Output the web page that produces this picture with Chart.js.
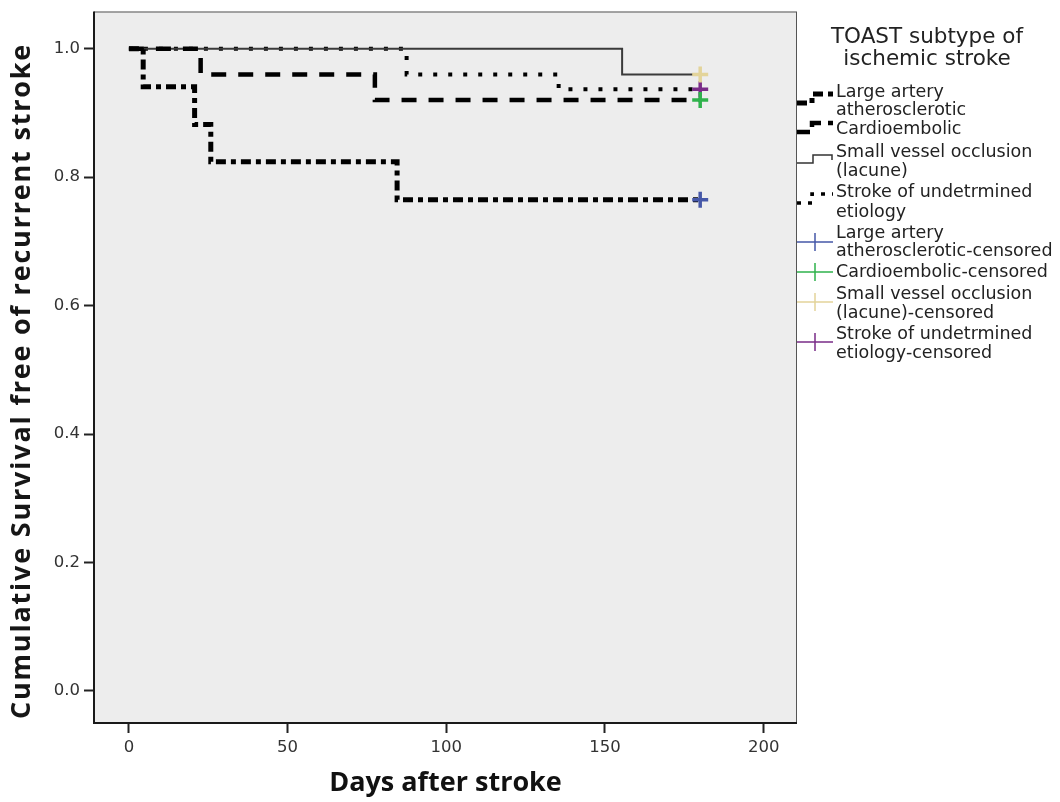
<!DOCTYPE html>
<html>
<head>
<meta charset="utf-8">
<script src="https://cdn.jsdelivr.net/npm/chart.js@4/dist/chart.umd.min.js"></script>
<style>
	body { margin: 0; background: #ffffff; }
	canvas { display: block; }
</style>
</head>
<body>
<canvas id="KM_Plot" width="1060" height="802"></canvas>
<script>

// Kaplan-Meier curves (days, cumulative survival)
const large_artery_days = [0, 4.5, 20.7, 25.8, 84.5, 180];
const large_artery_surv = [1.0, 0.941, 0.882, 0.824, 0.765, 0.765];

const cardio_days = [0, 22.6, 77.5, 180];
const cardio_surv = [1.0, 0.96, 0.92, 0.92];

const lacune_days = [0, 155.4, 180];
const lacune_surv = [1.0, 0.96, 0.96];

const undetermined_days = [0, 87.5, 135.4, 180];
const undetermined_surv = [1.0, 0.96, 0.937, 0.937];

// censored marks (all at last follow-up)
const censored_days = [180, 180, 180, 180];
const censored_surv = [0.765, 0.92, 0.96, 0.937];

const x_ticks = [0, 50, 100, 150, 200];
const y_ticks = [0.0, 0.2, 0.4, 0.6, 0.8, 1.0];

const x_title = 'Days after stroke';
const y_title = 'Cumulative Survival free of recurrent stroke';

const legend_title = ["TOAST subtype of", "ischemic stroke"];
const legend_labels = [
	["Large artery", "atherosclerotic"],
	["Cardioembolic"],
	["Small vessel occlusion", "(lacune)"],
	["Stroke of undetrmined", "etiology"],
	["Large artery", "atherosclerotic-censored"],
	["Cardioembolic-censored"],
	["Small vessel occlusion", "(lacune)-censored"],
	["Stroke of undetrmined", "etiology-censored"]
];

const censor_colors = ["#4658a8", "#2fb24c", "#e3d49a", "#7a2c88"];

// line styles for the four curves
const dash_large = [10, 5, 5, 5];
const dash_cardio = [15, 12];
const dash_undet = [4, 11];
const dash_solid = [];

function xy(days, surv) {
	return days.map((d, i) => ({ x: d, y: surv[i] }));
}

function censorSet(i) {
	return {
		data: [{ x: censored_days[i], y: censored_surv[i] }],
		showLine: false,
		pointStyle: 'cross',
		pointRadius: 8,
		pointBorderWidth: 3.5,
		pointBorderColor: censor_colors[i],
		pointBackgroundColor: censor_colors[i],
		order: 0
	};
}

function curveSet(days, surv, dash, width, color) {
	return {
		data: xy(days, surv),
		stepped: 'before',
		borderColor: color,
		borderWidth: width,
		borderDash: dash,
		borderCapStyle: 'butt',
		borderJoinStyle: 'miter',
		pointRadius: 0,
		fill: false,
		order: 1
	};
}

// grey plot background, frame and the y title
const frame_plugin = {
	id: 'frame',
	beforeDatasetsDraw(chart) {
		const a = chart.chartArea, ctx = chart.ctx;
		ctx.save();
		ctx.fillStyle = '#ededed';
		ctx.fillRect(a.left, a.top, a.right - a.left, a.bottom - a.top);
		ctx.restore();
	},
	afterDraw(chart) {
		const a = chart.chartArea, ctx = chart.ctx;
		ctx.save();
		ctx.strokeStyle = '#555';
		ctx.lineWidth = 1;
		ctx.strokeRect(a.left + 0.5, a.top + 0.5, a.right - a.left - 1, a.bottom - a.top);
		ctx.strokeStyle = '#1a1a1a';
		ctx.lineWidth = 2;
		ctx.beginPath();
		ctx.moveTo(a.left, a.top);
		ctx.lineTo(a.left, a.bottom);
		ctx.lineTo(a.right, a.bottom);
		ctx.stroke();

		ctx.translate(22, 381);
		ctx.rotate(-Math.PI / 2);
		ctx.fillStyle = '#161616';
		ctx.font = 'bold 27px "Open Sans"';
		ctx.letterSpacing = '1.8px';
		ctx.textAlign = 'center';
		ctx.textBaseline = 'middle';
		ctx.fillText(y_title, 0, 0);
		ctx.restore();
	}
};

// legend on the right, drawn by hand (step samples + censor crosses)
const legend_plugin = {
	id: 'kmLegend',
	afterDraw(chart) {
		const ctx = chart.ctx;
		const x0 = chart.chartArea.right;
		ctx.save();
		ctx.fillStyle = '#222';
		ctx.textBaseline = 'middle';

		ctx.font = '21.5px "DejaVu Sans"';
		ctx.textAlign = 'center';
		ctx.fillText(legend_title[0], 927, 37);
		ctx.fillText(legend_title[1], 927, 59);

		ctx.font = '17.5px "DejaVu Sans"';
		ctx.textAlign = 'left';
		const line_y = [[92, 110], [129], [152, 171], [192, 212], [233, 251], [272], [294, 313], [334, 353]];
		legend_labels.forEach((lines, i) => {
			lines.forEach((t, j) => ctx.fillText(t, 836, line_y[i][j]));
		});

		function step(yc, dash, width, color) {
			ctx.setLineDash(dash);
			ctx.lineWidth = width;
			ctx.strokeStyle = color;
			ctx.lineCap = 'butt';
			ctx.beginPath();
			ctx.moveTo(x0, yc + 2);
			ctx.lineTo(x0 + 15, yc + 2);
			ctx.lineTo(x0 + 15, yc - 7);
			ctx.lineTo(x0 + 36, yc - 7);
			ctx.stroke();
		}
		step(101, dash_large, 5, '#000');
		step(130, [13, 7], 4.5, '#000');
		ctx.setLineDash([]);
		ctx.lineWidth = 1.5;
		ctx.strokeStyle = '#333';
		ctx.beginPath();
		ctx.moveTo(x0, 163);
		ctx.lineTo(x0 + 16, 163);
		ctx.lineTo(x0 + 16, 155);
		ctx.lineTo(x0 + 35, 155);
		ctx.lineTo(x0 + 35, 160);
		ctx.stroke();
		step(201, [4, 7], 3.5, '#000');

		const cy = [242, 272, 302, 342];
		ctx.setLineDash([]);
		cy.forEach((y, i) => {
			ctx.strokeStyle = censor_colors[i];
			ctx.lineWidth = 1.5;
			ctx.beginPath();
			ctx.moveTo(x0, y);
			ctx.lineTo(x0 + 36, y);
			ctx.moveTo(x0 + 18, y - 9);
			ctx.lineTo(x0 + 18, y + 9);
			ctx.stroke();
		});
		ctx.restore();
	}
};

new Chart(document.getElementById("KM_Plot").getContext("2d"), {
	type: "line",
	data: {
		datasets: [
			censorSet(0), censorSet(1), censorSet(2), censorSet(3),
			curveSet(large_artery_days, large_artery_surv, dash_large, 5, '#000'),
			curveSet(cardio_days, cardio_surv, dash_cardio, 4.5, '#000'),
			curveSet(lacune_days, lacune_surv, dash_solid, 2, '#3a3a3a'),
			curveSet(undetermined_days, undetermined_surv, dash_undet, 4, '#000')
		]
	},
	options: {
		responsive: false,
		animation: false,
		events: [], // no hover
		layout: { padding: { left: 0, top: 10, right: 263, bottom: 0 } },
		plugins: {
			legend: { display: false },
			tooltip: { enabled: false }
		},
		scales: {
			x: {
				type: 'linear',
				min: -11,
				max: 210.5,
				afterFit(s) { s.height = 79; s.paddingLeft = 0; s.paddingRight = 0; },
				afterBuildTicks(s) { s.ticks = x_ticks.map(v => ({ value: v })); },
				grid: { drawOnChartArea: false, drawTicks: true, tickLength: 10, tickColor: '#222', tickWidth: 2 },
				border: { display: false },
				ticks: { color: '#333', font: { family: 'DejaVu Sans', size: 16.5 }, padding: 5, maxRotation: 0 },
				title: {
					display: true,
					text: x_title,
					color: '#111',
					font: { family: 'Open Sans', size: 27, weight: 'bold' },
					padding: { top: 0, bottom: 2 }
				}
			},
			y: {
				type: 'linear',
				min: -0.05,
				max: 1.058,
				afterFit(s) { s.width = 94; s.paddingTop = 0; s.paddingBottom = 0; },
				afterBuildTicks(s) { s.ticks = y_ticks.map(v => ({ value: v })); },
				grid: { drawOnChartArea: false, drawTicks: true, tickLength: 10, tickColor: '#222', tickWidth: 2 },
				border: { display: false },
				ticks: {
					color: '#333',
					font: { family: 'DejaVu Sans', size: 16.5 },
					padding: 4,
					callback: v => v.toFixed(1)
				},
				title: { display: false }
			}
		}
	},
	plugins: [frame_plugin, legend_plugin]
});

</script>
</body>
</html>
